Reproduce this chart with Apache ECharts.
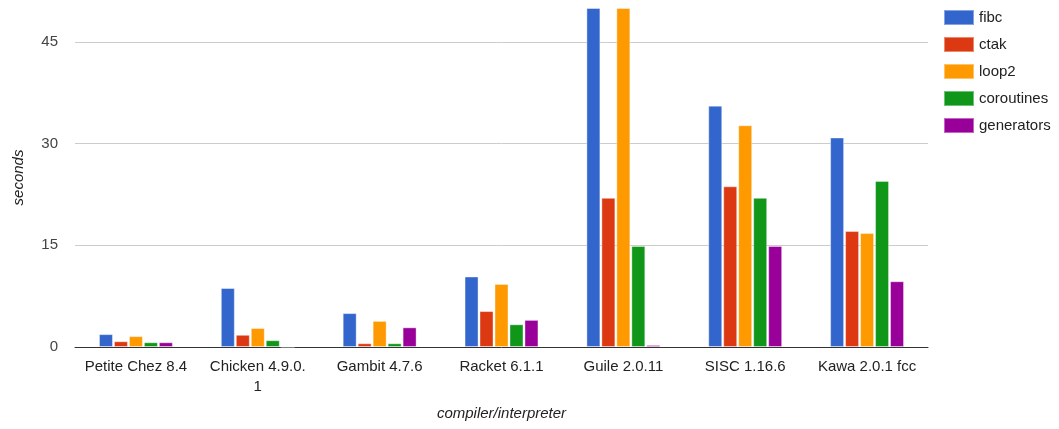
<!DOCTYPE html>
<html>
<head>
<meta charset="utf-8">
<script src="https://cdn.jsdelivr.net/npm/echarts@6/dist/echarts.min.js"></script>
<style>html,body{margin:0;padding:0;background:#fff}#c{width:1059px;height:429px}</style>
</head>
<body>
<div id="c"></div>
<script>
const categories = ['Petite Chez 8.4', 'Chicken 4.9.0.\n1', 'Gambit 4.7.6', 'Racket 6.1.1', 'Guile 2.0.11', 'SISC 1.16.6', 'Kawa 2.0.1 fcc'];
const seriesNames = ['fibc', 'ctak', 'loop2', 'coroutines', 'generators'];
const fibc       = [1.9, 8.7, 5.0, 10.4, 50, 35.6, 30.9];
const ctak       = [0.85, 1.8, 0.55, 5.3, 22.0, 23.7, 17.1];
const loop2      = [1.6, 2.8, 3.85, 9.3, 50, 32.7, 16.8];
const coroutines = [0.7, 1.0, 0.55, 3.35, 14.9, 22.0, 24.5];
const generators = [0.7, 0, 2.9, 4.0, 0.3, 14.9, 9.7];
const yTicks = [0, 15, 30, 45];
const colors = ['#3366cc', '#dc3912', '#ff9900', '#109618', '#990099'];
const values = [fibc, ctak, loop2, coroutines, generators];

const chart = echarts.init(document.getElementById('c'), null, {renderer: 'canvas'});
const font = 'Arial, "Liberation Sans", sans-serif';
chart.setOption({
  animation: false,
  color: colors,
  textStyle: {fontFamily: font},
  grid: {left: 75, right: 131, top: 8, bottom: 82, containLabel: false},
  legend: {
    orient: 'vertical', left: 943, top: 9, padding: 0,
    itemWidth: 30, itemHeight: 15, itemGap: 10,
    icon: 'rect',
    textStyle: {fontSize: 15, color: '#222', fontFamily: font},
    data: seriesNames
  },
  xAxis: {
    type: 'category', data: categories,
    name: 'compiler/interpreter', nameLocation: 'middle', nameGap: 59,
    nameTextStyle: {fontStyle: 'italic', fontSize: 15, color: '#222', fontFamily: font},
    axisLine: {lineStyle: {color: '#333', width: 1}},
    axisTick: {show: false},
    axisLabel: {fontSize: 15, color: '#222', margin: 10, lineHeight: 20, fontFamily: font, interval: 0}
  },
  yAxis: {
    type: 'value', min: 0, max: 50, interval: 15,
    name: 'seconds', nameLocation: 'middle', nameGap: 49,
    nameTextStyle: {fontStyle: 'italic', fontSize: 15, color: '#222', fontFamily: font},
    axisLine: {show: false}, axisTick: {show: false},
    axisLabel: {fontSize: 15, color: '#444', margin: 17, showMaxLabel: false, fontFamily: font,
      formatter: v => yTicks.includes(v) ? String(v) : ''},
    splitLine: {show: true, showMinLine: false, showMaxLine: false, lineStyle: {color: '#cccccc', width: 1}}
  },
  series: seriesNames.map((n, i) => ({
    name: n, type: 'bar', data: values[i],
    barWidth: 14, barGap: '7%',
    itemStyle: {borderColor: 'rgba(255,255,255,0.4)', borderWidth: 1},
    clip: true
  }))
});
</script>
</body>
</html>
